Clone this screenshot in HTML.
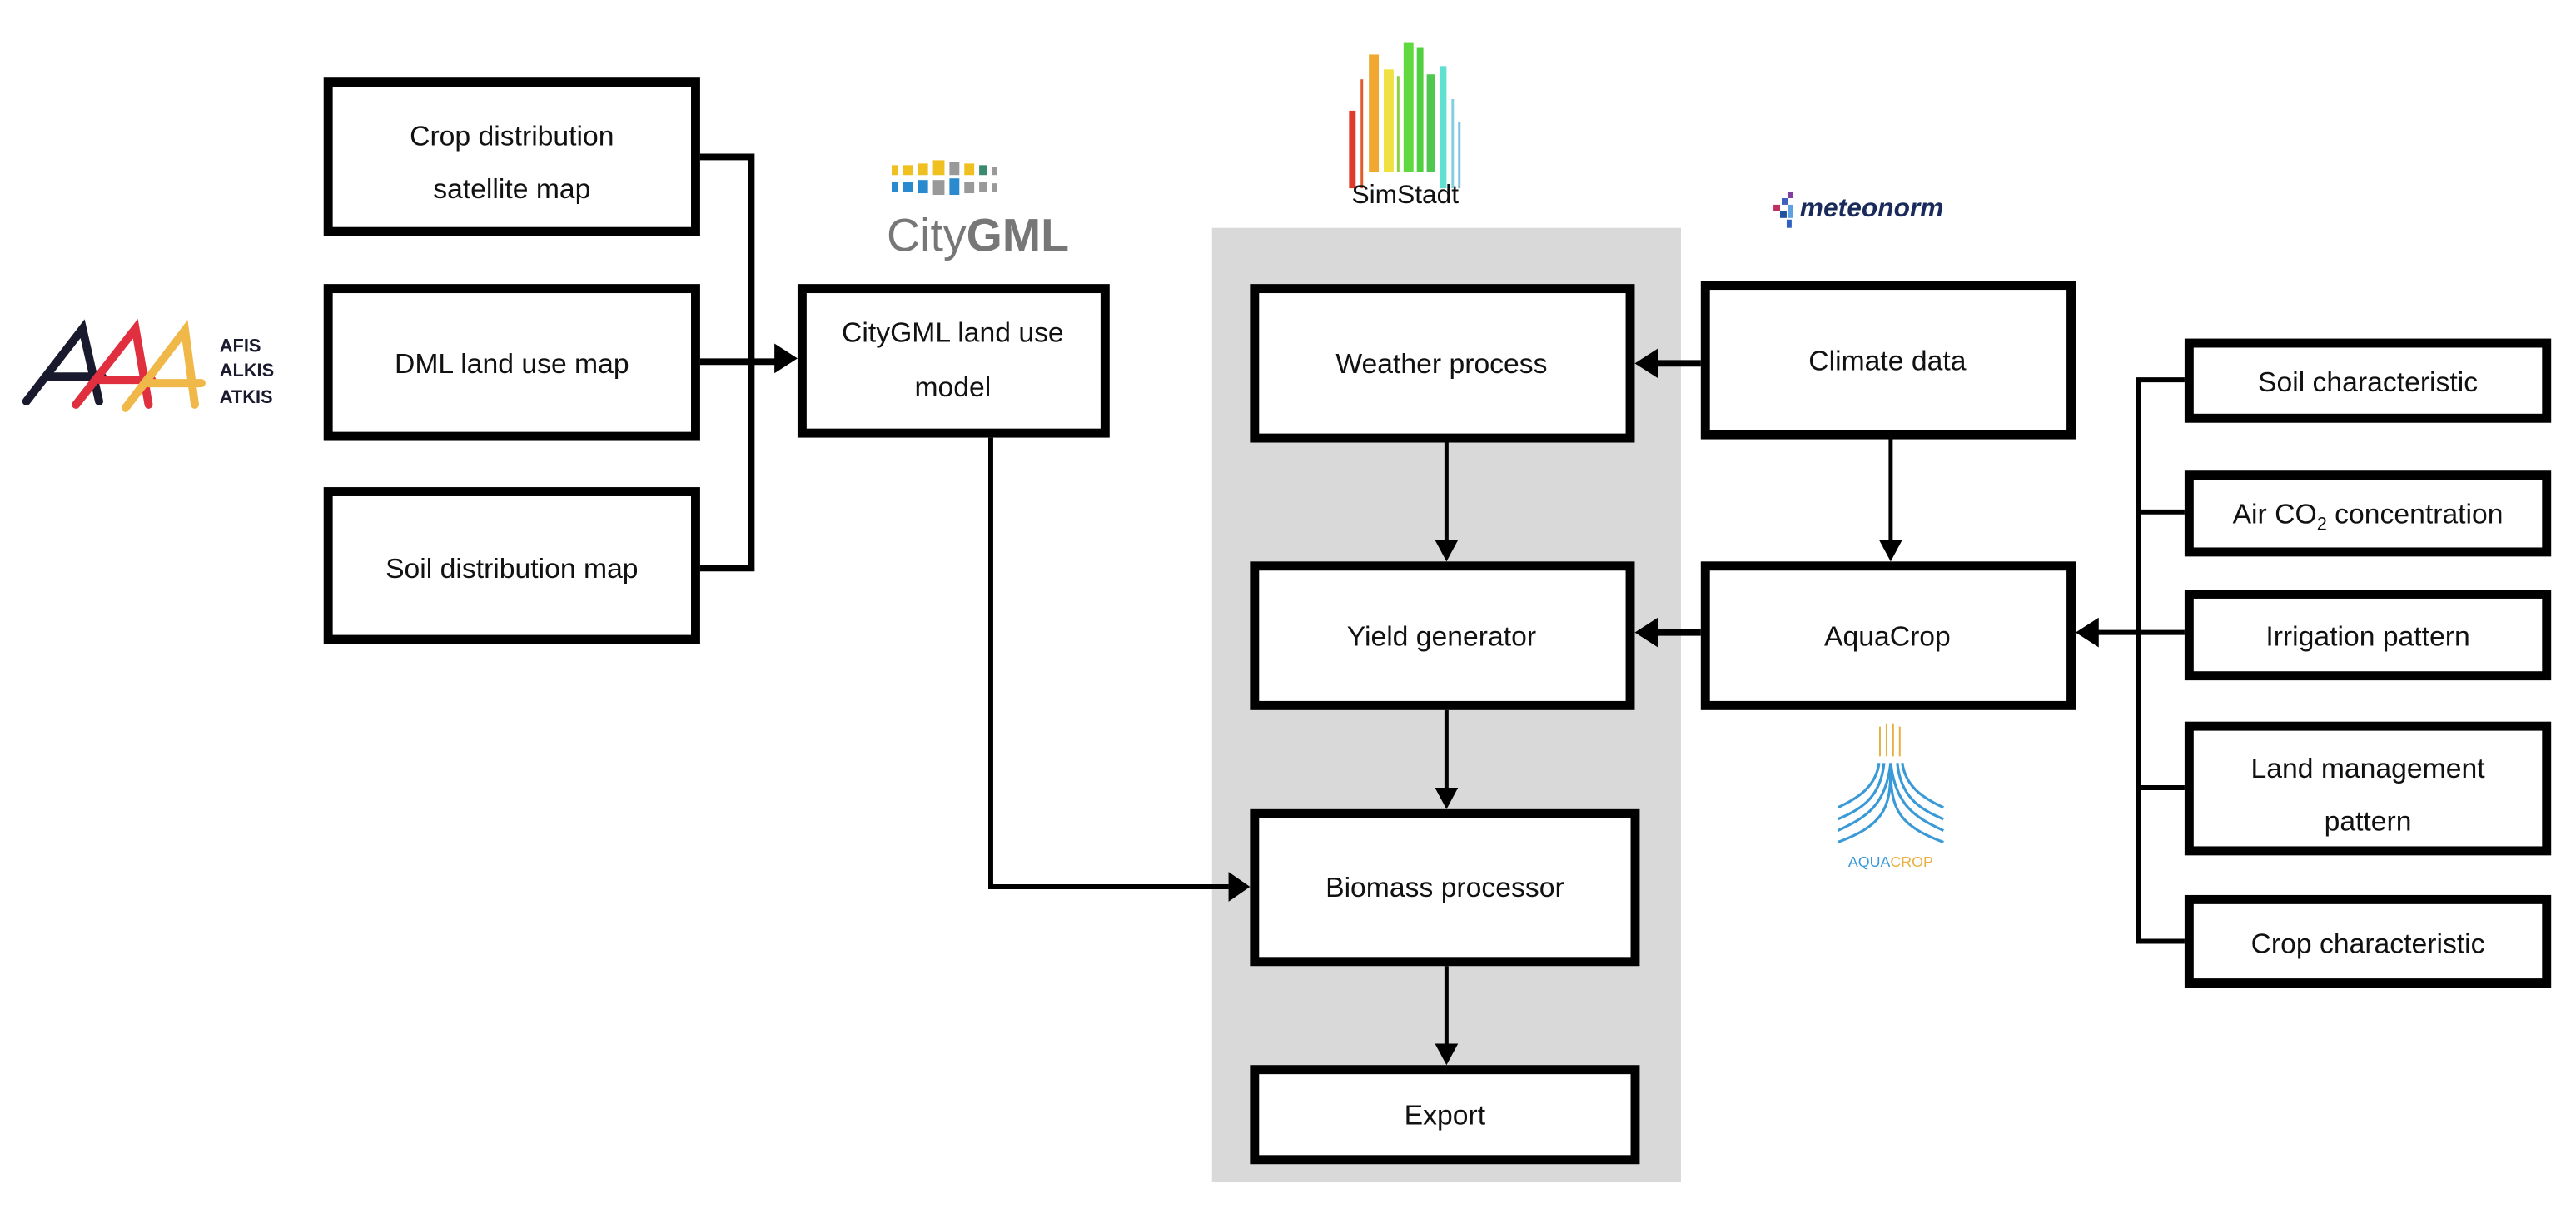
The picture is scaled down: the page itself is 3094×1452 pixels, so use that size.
<!DOCTYPE html>
<html><head><meta charset="utf-8"><style>
html,body{margin:0;padding:0;background:#fff;}
svg{display:block;}
text{font-family:"Liberation Sans",sans-serif;}
</style></head><body>
<svg width="3094" height="1452" viewBox="0 0 3094 1452" xmlns="http://www.w3.org/2000/svg">
<g transform="scale(1.9833)">
<rect x="734" y="138" width="284" height="578" fill="#d9d9d9"/>
<g fill="#fff" stroke="#000" stroke-width="5.5">
<rect x="198.75" y="49.75" width="222.5" height="90.5"/>
<rect x="198.75" y="174.75" width="222.5" height="89.5"/>
<rect x="198.75" y="297.75" width="222.5" height="89.5"/>
<rect x="485.75" y="174.75" width="183.5" height="87.5"/>
<rect x="759.75" y="174.75" width="227.5" height="90.5"/>
<rect x="759.75" y="342.75" width="227.5" height="84.5"/>
<rect x="759.75" y="492.75" width="230.5" height="89.5"/>
<rect x="759.75" y="647.75" width="230.5" height="54.5"/>
<rect x="1032.75" y="172.75" width="221.5" height="90.5"/>
<rect x="1032.75" y="342.75" width="221.5" height="84.5"/>
<rect x="1325.75" y="207.75" width="216.5" height="45.5"/>
<rect x="1325.75" y="287.75" width="216.5" height="46.5"/>
<rect x="1325.75" y="359.75" width="216.5" height="49.5"/>
<rect x="1325.75" y="439.75" width="216.5" height="75.5"/>
<rect x="1325.75" y="544.75" width="216.5" height="50.5"/>
</g>
<g stroke="#000" fill="none">
<path d="M424 95H455V344H424M424 219H470" stroke-width="4"/>
<path d="M1030 220H1003M1030 383H1003" stroke-width="4"/>
<path d="M876 268V327M1145 266V327M876 430V477M876 585V632" stroke-width="2.5"/>
<path d="M600 265V537H744" stroke-width="3"/>
<path d="M1323 230H1295V570H1323M1295 310H1323M1295 477H1323M1323 383H1270" stroke-width="3"/>
</g>
<g fill="#000">
<polygon points="469,208 483,217 469,226"/>
<polygon points="1004,211 990,220 1004,229"/>
<polygon points="1004,374 990,383 1004,392"/>
<polygon points="1271,374 1257,383 1271,392"/>
<polygon points="744,528 757,537 744,546"/>
<polygon points="869,327 876,340 883,327"/>
<polygon points="1138,327 1145,340 1152,327"/>
<polygon points="869,477 876,490 883,477"/>
<polygon points="869,632 876,645 883,632"/>
</g>
<g font-size="17" text-anchor="middle" fill="#111">
<text x="310" y="88">Crop distribution</text>
<text x="310" y="120">satellite map</text>
<text x="310" y="226">DML land use map</text>
<text x="310" y="350">Soil distribution map</text>
<text x="577" y="207">CityGML land use</text>
<text x="577" y="240">model</text>
<text x="873" y="226">Weather process</text>
<text x="873" y="391">Yield generator</text>
<text x="875" y="543">Biomass processor</text>
<text x="875" y="681">Export</text>
<text x="1143" y="224">Climate data</text>
<text x="1143" y="391">AquaCrop</text>
<text x="1434" y="237">Soil characteristic</text>
<text x="1434" y="317">Air CO<tspan font-size="11" dy="4">2</tspan><tspan dy="-4"> concentration</tspan></text>
<text x="1434" y="391">Irrigation pattern</text>
<text x="1434" y="471">Land management</text>
<text x="1434" y="503">pattern</text>
<text x="1434" y="577">Crop characteristic</text>
</g>
<!-- AAA logo -->
<g stroke-width="5" fill="none" stroke-linecap="round">
<path d="M16 243L50 199L60 243M30 228H62" stroke="#1a1a2e"/>
<path d="M46 245L82 199L90 245M60 230H92" stroke="#e03040"/>
<path d="M76 247L112 200L118 245M90 232H122" stroke="#f0b848"/>
</g>
<g font-size="11" font-weight="bold" fill="#1a1a2e">
<text x="133" y="213">AFIS</text><text x="133" y="228">ALKIS</text><text x="133" y="244">ATKIS</text>
</g>
<!-- CityGML logo -->
<g>
<rect x="540" y="100" width="4" height="6" fill="#f0c020"/><rect x="547" y="100" width="6" height="6" fill="#f0c020"/><rect x="556" y="99" width="6" height="7" fill="#f0c020"/><rect x="565" y="97" width="7" height="9" fill="#f0c020"/><rect x="575" y="98" width="6" height="8" fill="#999"/><rect x="584" y="99" width="6" height="7" fill="#f0c020"/><rect x="593" y="100" width="5" height="6" fill="#3a8a70"/><rect x="601" y="101" width="3" height="5" fill="#999"/>
<rect x="540" y="110" width="4" height="6" fill="#2a8ad0"/><rect x="547" y="110" width="6" height="6" fill="#2a8ad0"/><rect x="556" y="109" width="6" height="8" fill="#2a8ad0"/><rect x="565" y="109" width="7" height="9" fill="#999"/><rect x="575" y="108" width="6" height="10" fill="#2a8ad0"/><rect x="584" y="110" width="6" height="7" fill="#999"/><rect x="593" y="110" width="5" height="6" fill="#999"/><rect x="601" y="111" width="3" height="5" fill="#999"/>
<text x="537" y="152" font-size="28" fill="#777">City<tspan font-weight="bold">GML</tspan></text>
</g>
<!-- SimStadt -->
<g>
<rect x="817" y="67" width="4" height="47" fill="#e03a2a"/>
<rect x="824" y="48" width="1.5" height="66" fill="#e05a2a"/>
<rect x="829" y="33" width="6" height="71" fill="#f0a830"/>
<rect x="838" y="42" width="6" height="62" fill="#f0e040"/>
<rect x="846" y="46" width="1.5" height="58" fill="#90d040"/>
<rect x="850" y="26" width="6" height="78" fill="#60d840"/>
<rect x="858" y="29" width="4" height="75" fill="#50d040"/>
<rect x="864" y="45" width="5" height="59" fill="#50c850"/>
<rect x="872" y="40" width="4" height="74" fill="#60e0d0"/>
<rect x="879" y="60" width="1.5" height="54" fill="#80d0e0"/>
<rect x="883" y="74" width="1.5" height="40" fill="#80c0e0"/>
<text x="851" y="123" font-size="16" text-anchor="middle" fill="#111">SimStadt</text>
</g>
<!-- meteonorm -->
<g>
<rect x="1074" y="124" width="4" height="4" fill="#c03060"/><rect x="1079" y="120" width="4" height="4" fill="#4060c0"/><rect x="1083" y="116" width="3" height="4" fill="#8040a0"/><rect x="1078" y="128" width="4" height="4" fill="#2050a0"/><rect x="1083" y="124" width="3" height="8" fill="#60a0e0"/><rect x="1082" y="133" width="3" height="5" fill="#3060c0"/>
<text x="1090" y="131" font-size="16" font-style="italic" font-weight="bold" fill="#1a2a5a">meteonorm</text>
</g>
<!-- AquaCrop logo -->
<g fill="none" stroke="#3a9ad8" stroke-width="1.6">
<path d="M1145 462C1142 488 1130 495 1113 503M1145 462C1148 488 1160 495 1177 503"/>
<path d="M1141 462C1139 482 1128 490 1113 496M1149 462C1151 482 1162 490 1177 496"/>
<path d="M1138 462C1136 476 1126 483 1113 489M1152 462C1154 476 1164 483 1177 489"/>
<path d="M1145 466C1145 490 1140 500 1113 510M1145 466C1145 490 1150 500 1177 510"/>
</g>
<g fill="#e8b040"><rect x="1138" y="440" width="1" height="18"/><rect x="1142" y="438" width="1" height="20"/><rect x="1146" y="438" width="1" height="20"/><rect x="1150" y="440" width="1" height="18"/></g>
<text x="1145" y="525" font-size="9" text-anchor="middle" fill="#3a9ad8">AQUA<tspan fill="#e8b040">CROP</tspan></text>
</g>
</svg>
</body></html>
